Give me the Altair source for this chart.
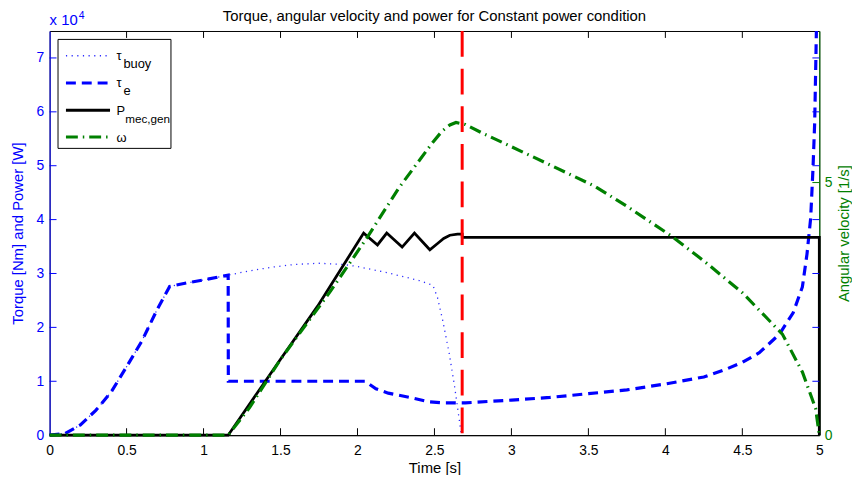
import altair as alt
import pandas as pd

# ---------------- data ----------------
tau_buoy_t = [0, 0.1, 0.2, 0.3, 0.4, 0.5, 0.6, 0.7, 0.78, 0.9, 1.0, 1.16,
              1.3, 1.45, 1.6, 1.75, 1.9, 2.0, 2.1, 2.2, 2.3, 2.4,
              2.49, 2.52, 2.553, 2.595, 2.63, 2.66, 2.675]
tau_buoy_v = [0, 300, 1900, 4600, 8000, 12700, 17500, 23400, 27600, 28300, 28800, 29700,
              30500, 31200, 31700, 31900, 31700, 31300, 30700, 30100, 29400, 28700,
              27800, 25500, 21400, 15300, 9200, 3100, 0]

tau_e_t = [0, 0.1, 0.2, 0.3, 0.4, 0.5, 0.6, 0.7, 0.78, 0.9, 1.0, 1.16,
           1.161, 2.05, 2.12, 2.2, 2.34, 2.46, 2.55, 2.7, 3.0, 3.25, 3.5, 3.75,
           4.0, 4.25, 4.4, 4.5, 4.61, 4.74, 4.83, 4.89, 4.92, 4.944, 4.959, 4.97, 4.981]
tau_e_v = [0, 300, 1900, 4600, 8000, 12700, 17500, 23400, 27600, 28300, 28800, 29700,
           10000, 10000, 8600, 7800, 7000, 6200, 6000, 6000, 6500, 7000, 7700, 8400,
           9500, 10800, 12300, 13500, 15300, 18700, 22700, 27500, 33600, 40300, 49500, 58000, 75000]

p_t = [0, 1.16, 1.5, 1.74, 2.04, 2.13, 2.19, 2.29, 2.37, 2.47, 2.53, 2.56, 2.6, 2.65,
       2.68, 2.681, 5.0, 5.0]
p_v = [0, 0, 14100, 23900, 37500, 35300, 37500, 34900, 37500, 34400, 35800, 36500, 37100, 37300,
       37300, 36700, 36700, 0]

omega_t = [0, 1.16, 1.3, 1.5, 1.82, 2.06, 2.27, 2.49, 2.55, 2.6, 2.64, 2.7, 2.81, 3.0,
           3.25, 3.54, 3.75, 4.04, 4.25, 4.5, 4.76, 4.89, 4.976, 5.0]
omega_v = [0, 0, 0.55, 1.5, 2.83, 3.9, 4.9, 5.8, 6.02, 6.14, 6.19, 6.15, 5.98, 5.71,
           5.35, 4.93, 4.53, 3.94, 3.45, 2.82, 2.0, 1.25, 0.53, 0]

switch_t = [2.68]

x_ticks = [0, 0.5, 1, 1.5, 2, 2.5, 3, 3.5, 4, 4.5, 5]
left_ticks = [0, 10000, 20000, 30000, 40000, 50000, 60000, 70000]
right_ticks = [0, 5]

title_text = "Torque, angular velocity and power for Constant power condition"
x_title = "Time [s]"
left_title = "Torque [Nm] and Power [W]"
right_title = "Angular velocity [1/s]"

# ---------------- styling ----------------
W, H = 777, 408
FONT = "Liberation Sans"
BLUE = "#0000ff"
BUOY = "#2a2aff"
GREEN = "#008000"
RED = "#ff0000"
TICK = 7


def frame(t, v):
    return pd.DataFrame({"t": t, "v": v, "i": list(range(len(t)))})


one = pd.DataFrame({"k": [0]})

xs = alt.Scale(domain=[0, 5], nice=False, zero=False)
yls = alt.Scale(domain=[0, 75000], nice=False)
yrs = alt.Scale(domain=[0, 8], nice=False)

x_axis = alt.Axis(values=x_ticks, format="~g", title=x_title, ticks=False,
                  domainColor="black", labelColor="black", titleColor="black",
                  labelFontSize=14, titleFontSize=15, labelPadding=9, titlePadding=3,
                  titleFontWeight="normal", labelFlush=False)
left_axis = alt.Axis(values=left_ticks, labelExpr="format(datum.value/10000,'~g')",
                     title=left_title, ticks=False, domainColor=BLUE, labelColor=BLUE,
                     titleColor=BLUE, labelFontSize=14, titleFontSize=15, labelPadding=6,
                     titleAngle=270, titleX=-32, titleY=H / 2, titleBaseline="middle",
                     titleAlign="center", titleFontWeight="normal", labelFlush=False)
right_axis = alt.Axis(orient="right", values=right_ticks, title=right_title, ticks=False,
                      domainColor=GREEN, labelColor=GREEN, titleColor=GREEN,
                      labelFontSize=14, titleFontSize=15, labelPadding=5,
                      titleAngle=270, titleX=24, titleY=H / 2, titleBaseline="middle",
                      titleAlign="center", titleFontWeight="normal", labelFlush=False)

X = lambda: alt.X("t:Q", scale=xs, axis=x_axis)
YL = lambda: alt.Y("v:Q", scale=yls, axis=left_axis)
YR = lambda: alt.Y("v:Q", scale=yrs, axis=right_axis)


def curve(t, v, yenc, **mk):
    return alt.Chart(frame(t, v)).mark_line(strokeCap="butt", strokeJoin="miter", **mk).encode(
        x=X(), y=yenc(), order=alt.Order("i:Q"))


buoy = curve(tau_buoy_t, tau_buoy_v, YL, color=BUOY, strokeWidth=1.3, strokeDash=[1.2, 4.5])
te = curve(tau_e_t, tau_e_v, YL, color=BLUE, strokeWidth=3.2, strokeDash=[10, 6])
pmec = curve(p_t, p_v, YL, color="black", strokeWidth=2.8)
omega = curve(omega_t, omega_v, YR, color=GREEN, strokeWidth=3.2, strokeDash=[12, 5, 1.5, 5])

red = alt.Chart(pd.DataFrame({"t": switch_t})).mark_rule(
    color=RED, strokeWidth=3, strokeDash=[26, 12]).encode(x=X())

# inward ticks (MATLAB style)
inner_x = pd.DataFrame({"t": x_ticks[1:-1]})
bottom_ticks = alt.Chart(inner_x).mark_rule(color="black", strokeWidth=1).encode(
    x=X(), y=alt.value(H), y2=alt.value(H - TICK))
top_ticks = alt.Chart(inner_x).mark_rule(color="black", strokeWidth=1).encode(
    x=X(), y=alt.value(0), y2=alt.value(TICK))
inner_l = pd.DataFrame({"v": left_ticks[1:]})
left_ticks_m = alt.Chart(inner_l).mark_rule(color=BLUE, strokeWidth=1).encode(
    y=YL(), x=alt.value(0), x2=alt.value(TICK))
right_blue_ticks = alt.Chart(inner_l).mark_rule(color=BLUE, strokeWidth=1).encode(
    y=YL(), x=alt.value(W), x2=alt.value(W - TICK))
green_ticks = alt.Chart(pd.DataFrame({"v": right_ticks[1:]})).mark_rule(
    color=GREEN, strokeWidth=1).encode(y=YR(), x=alt.value(W), x2=alt.value(W - TICK))

# title and exponent note
title_m = alt.Chart(one).mark_text(text=title_text, font=FONT, fontSize=15, color="black",
                                   align="center", baseline="alphabetic").encode(
    x=alt.value(W / 2), y=alt.value(-10))
exp_m = alt.Chart(one).mark_text(text="x 10", font=FONT, fontSize=15, color=BLUE,
                                 align="left", baseline="alphabetic").encode(
    x=alt.value(0), y=alt.value(-6))
exp4_m = alt.Chart(one).mark_text(text="4", font=FONT, fontSize=10.5, color=BLUE,
                                  align="left", baseline="alphabetic").encode(
    x=alt.value(29.5), y=alt.value(-12.5))

# legend (drawn by hand to allow subscripts)
leg_box = alt.Chart(one).mark_rect(fill="white", stroke="black", strokeWidth=1).encode(
    x=alt.value(8.5), x2=alt.value(122.5), y=alt.value(8.5), y2=alt.value(118.5))
rows = [25, 52.5, 80, 107]
leg_styles = [
    dict(color=BUOY, strokeWidth=1.3, strokeDash=[1.2, 4.5]),
    dict(color=BLUE, strokeWidth=3.2, strokeDash=[10, 6]),
    dict(color="black", strokeWidth=2.8),
    dict(color=GREEN, strokeWidth=3.2, strokeDash=[12, 5, 1.5, 5]),
]
leg_main = ["τ", "τ", "P", "ω"]
leg_sub = ["buoy", "e", "mec,gen", ""]
leg_sub_x = [74.5, 74.5, 76.3, 0]
leg_sub_size = [13, 13, 11.8, 13]
leg_layers = [leg_box]
for r, st, m, s, sx, ss in zip(rows, leg_styles, leg_main, leg_sub, leg_sub_x, leg_sub_size):
    leg_layers.append(alt.Chart(one).mark_rule(strokeCap="butt", **st).encode(
        x=alt.value(16.5), x2=alt.value(61), y=alt.value(r)))
    leg_layers.append(alt.Chart(one).mark_text(text=m, font=FONT, fontSize=13, color="black",
                                               align="left", baseline="alphabetic").encode(
        x=alt.value(67.5), y=alt.value(r + (5.5 if m == "ω" else 4.5))))
    if s:
        leg_layers.append(alt.Chart(one).mark_text(text=s, font=FONT, fontSize=ss, color="black",
                                                   align="left", baseline="alphabetic").encode(
            x=alt.value(sx), y=alt.value(r + 12.5)))

left = alt.layer(buoy, te, pmec, red, bottom_ticks, top_ticks, left_ticks_m, right_blue_ticks,
                 title_m, exp_m, exp4_m, *leg_layers)
right = alt.layer(omega, green_ticks)

chart = alt.layer(left, right).resolve_scale(y="independent").properties(
    width=W, height=H,
    autosize=alt.AutoSizeParams(type="none"),
    padding={"left": 42, "top": 21, "right": 33, "bottom": 38},
).configure_view(stroke="black", strokeWidth=1).configure_axis(
    grid=False, labelFont=FONT, titleFont=FONT, domainWidth=1)

chart.save("out.html", embed_options={"renderer": "svg", "actions": False})
